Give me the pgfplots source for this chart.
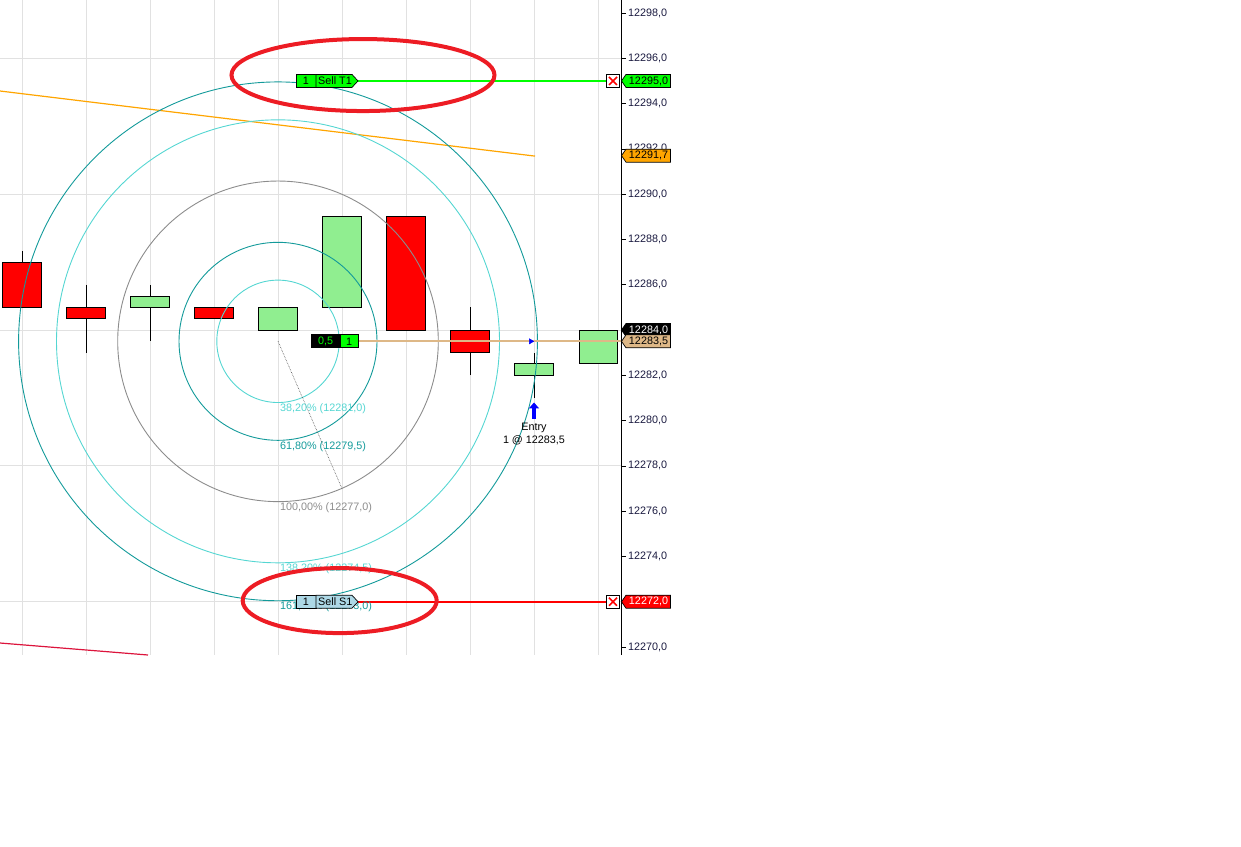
\documentclass[border=0pt]{standalone}
\usepackage{fontspec}
\setmainfont{Liberation Sans}
\usepackage{pgfplots}
\pgfplotsset{compat=1.18}
\usepgfplotslibrary{statistics}
\usetikzlibrary{arrows.meta}
\definecolor{upc}{HTML}{90EE90}
\definecolor{dnc}{HTML}{FF0000}
\definecolor{turq}{HTML}{55D6D2}
\definecolor{dcyan}{HTML}{139A9A}
\definecolor{fibgray}{HTML}{8C8C8C}
\definecolor{gridc}{HTML}{E1E1E1}
\definecolor{orng}{HTML}{FFA500}
\definecolor{crim}{HTML}{DC143C}
\definecolor{limec}{HTML}{00FF00}
\definecolor{tanc}{HTML}{DEB887}
\definecolor{ellred}{HTML}{ED1C24}
\definecolor{lblue}{HTML}{ADD8E6}
\definecolor{ticktxt}{HTML}{1A1A40}
\newcommand{\fs}{\fontsize{10.8}{12}\selectfont}
\newcommand{\flag}[4]{%
  \draw[fill=#2, draw=black, line width=0.7pt] (#1) -- +(4.5pt,6.5pt) -- +(49pt,6.5pt) -- +(49pt,-6.5pt) -- +(4.5pt,-6.5pt) -- cycle;
  \node[text=#3, font=\fs, inner sep=0pt] at ([xshift=27pt]#1) {#4};}
\newcommand{\tlabel}[3]{%
  \draw[fill=#2, line width=0.7pt] ([yshift=-6.5pt]#1) rectangle ([xshift=20pt,yshift=6.5pt]#1);
  \draw[fill=#2, line width=0.7pt] ([xshift=20pt,yshift=-6.5pt]#1) -- ([xshift=56pt,yshift=-6.5pt]#1) -- ([xshift=62pt]#1) -- ([xshift=56pt,yshift=6.5pt]#1) -- ([xshift=20pt,yshift=6.5pt]#1) -- cycle;
  \node[font=\fs, inner sep=0pt] at ([xshift=10pt]#1) {1};
  \node[font=\fs, inner sep=0pt, anchor=west] at ([xshift=22pt]#1) {#3};}
\newcommand{\xbox}[1]{%
  \draw[fill=white, line width=0.7pt] ([xshift=-6.5pt,yshift=-6.5pt]#1) rectangle ([xshift=6.5pt,yshift=6.5pt]#1);
  \draw[red, line width=1.6pt] ([xshift=-4pt,yshift=-4pt]#1) -- ([xshift=4pt,yshift=4pt]#1) ([xshift=-4pt,yshift=4pt]#1) -- ([xshift=4pt,yshift=-4pt]#1);}
\begin{document}
\begin{tikzpicture}
\useasboundingbox (0,0) rectangle (1241pt,-846pt);
\begin{axis}[
  at={(0,0)}, anchor=north west,
  scale only axis, width=621.5pt, height=655pt,
  xmin=-0.34375, xmax=9.3672, ymin=12269.647, ymax=12298.574,
  axis line style={draw=none},
  clip mode=individual,
  boxplot/draw direction=y,
  xtick={0,...,9}, xticklabels={}, xtick style={draw=none},
  xmajorgrids, major grid style={gridc, line width=1pt},
  ytick={12270,12272,...,12298},
  scaled y ticks=false,
  ytick pos=right, yticklabel pos=right,
  tick align=outside, major tick length=4pt,
  ytick style={black, line width=0.8pt},
  yticklabel style={font=\fs, text=ticktxt, anchor=west, inner sep=0pt, xshift=2.5pt,
    /pgf/number format/fixed, /pgf/number format/fixed zerofill,
    /pgf/number format/precision=1, /pgf/number format/use comma,
    /pgf/number format/1000 sep={}, /pgf/number format/assume math mode=true},
  extra y ticks={12272,12278,12284,12290,12296}, extra y tick labels={},
  extra y tick style={grid=major, major tick length=0pt},
]
% candles
\addplot[boxplot prepared={draw position=0, lower whisker=12285, lower quartile=12285, median=12285, upper quartile=12287, upper whisker=12287.5, box extend=0.594, whisker extend=0}, draw=black, fill=dnc, line width=1pt] coordinates {};
\addplot[boxplot prepared={draw position=1, lower whisker=12283, lower quartile=12284.5, median=12284.5, upper quartile=12285, upper whisker=12286, box extend=0.594, whisker extend=0}, draw=black, fill=dnc, line width=1pt] coordinates {};
\addplot[boxplot prepared={draw position=2, lower whisker=12283.5, lower quartile=12285, median=12285, upper quartile=12285.5, upper whisker=12286, box extend=0.594, whisker extend=0}, draw=black, fill=upc, line width=1pt] coordinates {};
\addplot[boxplot prepared={draw position=3, lower whisker=12284.5, lower quartile=12284.5, median=12284.5, upper quartile=12285, upper whisker=12285, box extend=0.594, whisker extend=0}, draw=black, fill=dnc, line width=1pt] coordinates {};
\addplot[boxplot prepared={draw position=4, lower whisker=12284, lower quartile=12284, median=12284, upper quartile=12285, upper whisker=12285, box extend=0.594, whisker extend=0}, draw=black, fill=upc, line width=1pt] coordinates {};
\addplot[boxplot prepared={draw position=5, lower whisker=12285, lower quartile=12285, median=12285, upper quartile=12289, upper whisker=12289, box extend=0.594, whisker extend=0}, draw=black, fill=upc, line width=1pt] coordinates {};
\addplot[boxplot prepared={draw position=6, lower whisker=12284, lower quartile=12284, median=12284, upper quartile=12289, upper whisker=12289, box extend=0.594, whisker extend=0}, draw=black, fill=dnc, line width=1pt] coordinates {};
\addplot[boxplot prepared={draw position=7, lower whisker=12282, lower quartile=12283, median=12283, upper quartile=12284, upper whisker=12285, box extend=0.594, whisker extend=0}, draw=black, fill=dnc, line width=1pt] coordinates {};
\addplot[boxplot prepared={draw position=8, lower whisker=12281, lower quartile=12282, median=12282, upper quartile=12282.5, upper whisker=12283, box extend=0.594, whisker extend=0}, draw=black, fill=upc, line width=1pt] coordinates {};
\addplot[boxplot prepared={draw position=9, lower whisker=12282.5, lower quartile=12282.5, median=12282.5, upper quartile=12284, upper whisker=12284, box extend=0.594, whisker extend=0}, draw=black, fill=upc, line width=1pt] coordinates {};
% trend lines
\addplot[orng, line width=1.2pt] coordinates {(-0.34375,12294.555) (8.016,12291.68)};
\addplot[crim, line width=1.2pt] coordinates {(-0.34375,12270.177) (1.969,12269.647)};
% fib circles
\draw[turq, line width=0.9pt] (axis cs:4,12283.5) circle[radius=61.2pt];
\draw[dcyan, line width=0.9pt] (axis cs:4,12283.5) circle[radius=99pt];
\draw[fibgray, line width=0.9pt] (axis cs:4,12283.5) circle[radius=160.3pt];
\draw[turq, line width=0.9pt] (axis cs:4,12283.5) circle[radius=221.5pt];
\draw[dcyan, line width=0.9pt] (axis cs:4,12283.5) circle[radius=259.4pt];
\addplot[densely dotted, black!70, line width=0.6pt] coordinates {(4,12283.5) (5,12277)};
% horizontal order lines
\addplot[limec, line width=2pt] coordinates {(5.2,12295) (9.2,12295)};
\addplot[red, line width=2pt] coordinates {(5.2,12272) (9.2,12272)};
\addplot[tanc, line width=2pt] coordinates {(5.2,12283.5) (9.3672,12283.5)};
% fib labels
\node[anchor=west, text=turq, font=\fs, inner sep=0pt] at (axis cs:4.03,12280.51) {38,20\% (12281,0)};
\node[anchor=west, text=dcyan, font=\fs, inner sep=0pt] at (axis cs:4.03,12278.83) {61,80\% (12279,5)};
\node[anchor=west, text=fibgray, font=\fs, inner sep=0pt] at (axis cs:4.03,12276.14) {100,00\% (12277,0)};
\node[anchor=west, text=turq, font=\fs, inner sep=0pt] at (axis cs:4.03,12273.45) {138,20\% (12274,5)};
\node[anchor=west, text=dcyan, font=\fs, inner sep=0pt] at (axis cs:4.03,12271.77) {161,80\% (12273,0)};
% entry
\draw[blue, line width=3.5pt, -{Triangle[width=10pt,length=6pt]}] (axis cs:8,12280.07) -- (axis cs:8,12280.8);
\node[font=\fs, inner sep=0pt] at (axis cs:8,12279.67) {Entry};
\node[font=\fs, inner sep=0pt] at (axis cs:8,12279.14) {1 @ 12283,5};
\addplot[only marks, mark=triangle*, mark size=3pt, mark options={blue, rotate=-90}] coordinates {(7.95,12283.5)};
% anchors for overlays
\coordinate (fT) at (axis cs:9.3672,12295);
\coordinate (fO) at (axis cs:9.3672,12291.7);
\coordinate (fB) at (axis cs:9.3672,12284);
\coordinate (fN) at (axis cs:9.3672,12283.5);
\coordinate (fR) at (axis cs:9.3672,12272);
\coordinate (sT) at (axis cs:4.281,12295);
\coordinate (sS) at (axis cs:4.281,12272);
\coordinate (pL) at (axis cs:4.516,12283.5);
\coordinate (xT) at (axis cs:9.234,12295);
\coordinate (xS) at (axis cs:9.234,12272);
\coordinate (e1) at (axis cs:5.328,12295.26);
\coordinate (e2) at (axis cs:4.964,12272.05);
\coordinate (aB) at (axis cs:9.3672,12269.647);
\coordinate (aT) at (axis cs:9.3672,12298.574);
\end{axis}
\draw[black, line width=1pt] (aB) -- (aT);
% position label
\draw[fill=black, line width=0.7pt] ([yshift=-6.5pt]pL) rectangle ([xshift=29pt,yshift=6.5pt]pL);
\draw[fill=limec, line width=0.7pt] ([xshift=29pt,yshift=-6.5pt]pL) rectangle ([xshift=47pt,yshift=6.5pt]pL);
\node[font=\fs, text=limec, inner sep=0pt] at ([xshift=14.5pt]pL) {0,5};
\node[font=\fs, inner sep=0pt] at ([xshift=38pt]pL) {1};
% order labels
\tlabel{sT}{limec}{Sell T1}
\tlabel{sS}{lblue}{Sell S1}
\xbox{xT}
\xbox{xS}
% price flags
\flag{fT}{limec}{black}{12295,0}
\flag{fO}{orng}{black}{12291,7}
\flag{fB}{black}{white}{12284,0}
\flag{fN}{tanc}{black}{12283,5}
\flag{fR}{red}{white}{12272,0}
% highlight ellipses
\draw[ellred, line width=4pt] (e1) ellipse [x radius=131.5pt, y radius=36pt];
\draw[ellred, line width=4pt] (e2) ellipse [x radius=97pt, y radius=32.5pt];
\end{tikzpicture}
\end{document}
